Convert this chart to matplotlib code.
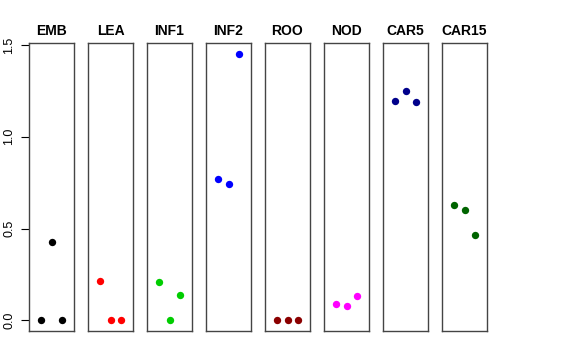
import matplotlib
matplotlib.use("Agg")
import matplotlib.pyplot as plt

plt.rcParams['font.family'] = ['Liberation Sans', 'DejaVu Sans']

# sample names and the three replicate values per sample
samples = ['EMB', 'LEA', 'INF1', 'INF2', 'ROO', 'NOD', 'CAR5', 'CAR15']
emb = [0.0, 0.425, 0.0]
lea = [0.215, 0.0, 0.0]
inf1 = [0.208, 0.0, 0.138]
inf2 = [0.768, 0.743, 1.453]
roo = [0.0, 0.0, 0.0]
nod = [0.090, 0.080, 0.132]
car5 = [1.193, 1.248, 1.188]
car15 = [0.630, 0.601, 0.465]
values = [emb, lea, inf1, inf2, roo, nod, car5, car15]
colors = ['black', 'red', '#00CD00', 'blue', '#8B0000', 'magenta', '#00008B', '#006400']
yticks = [0.0, 0.5, 1.0, 1.5]

W, H = 576, 360
fig = plt.figure(figsize=(W / 100, H / 100), dpi=100)

ymax = max(max(v) for v in values)
ylo, yhi = -0.04 * ymax, ymax * 1.04

for i, (name, vals, col) in enumerate(zip(samples, values, colors)):
    x0 = 29 + i * 59
    ax = fig.add_axes([x0 / W, 29 / H, 45 / W, 288 / H])
    ax.scatter([1, 2, 3], vals, s=28, color=col, zorder=3, linewidths=0)
    ax.set_xlim(-0.1, 4.1)
    ax.set_ylim(ylo, yhi)
    ax.set_xticks([])
    for sp in ax.spines.values():
        sp.set_color('#444444')
        sp.set_linewidth(1.0)
    ax.set_title(name, fontsize=10, fontweight='bold', pad=6)
    if i == 0:
        ax.set_yticks(yticks)
        ax.tick_params(axis='y', length=6, width=0.8, pad=4, labelsize=9,
                       labelrotation=90, colors='black')
        ax.set_yticklabels(['0.0', '0.5', '1.0', '1.5'])
        for lab in ax.get_yticklabels():
            lab.set_rotation(90)
            lab.set_verticalalignment('center')
    else:
        ax.set_yticks([])

fig.savefig('out.png', dpi=100)
